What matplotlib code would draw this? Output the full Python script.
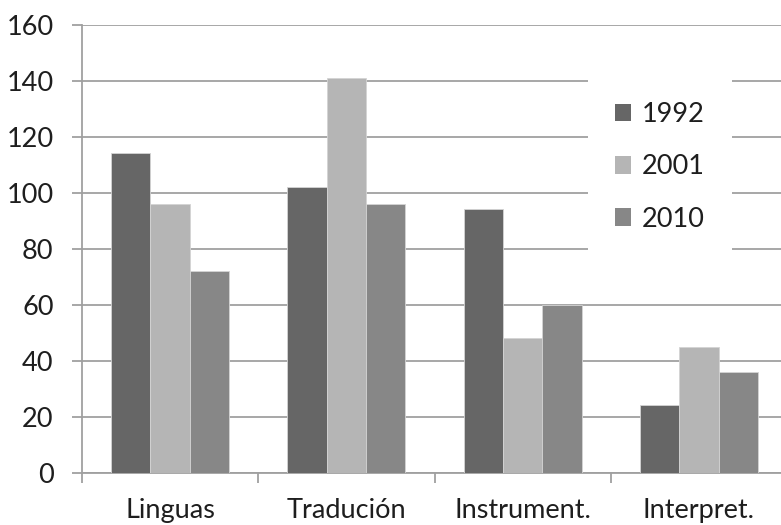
import numpy as np
import matplotlib
matplotlib.use("Agg")
import matplotlib.pyplot as plt

plt.rcParams['font.family'] = ['Lato', 'DejaVu Sans']

# dados
categorias = ["Linguas", "Tradución", "Instrument.", "Interpret."]
anos = ["1992", "2001", "2010"]
v1992 = [114, 102, 94, 24]
v2001 = [96, 141, 48, 45]
v2010 = [72, 96, 60, 36]
series = [v1992, v2001, v2010]
cores = ["#666666", "#b5b5b5", "#878787"]

fig = plt.figure(figsize=(7.81, 5.25), dpi=100)
# o eixo passa um pouco da borda direita da figura
ax = fig.add_axes([82 / 781, 52.3 / 525, 705 / 781, 448.2 / 525])

x = np.arange(len(categorias))
w = 0.223
for i, (vals, ano, cor) in enumerate(zip(series, anos, cores)):
    ax.bar(x + (i - 1) * w, vals, w, color=cor, label=ano,
           edgecolor="#d4d4d4", linewidth=0.6, zorder=3)

ax.set_ylim(0, 160)
ax.set_xlim(-0.5, len(categorias) - 0.5)
ax.set_yticks(np.arange(0, 161, 20))
ax.yaxis.grid(True, color="#a0a0a0", linewidth=1.3, zorder=0)
ax.set_axisbelow(True)

for s in ["top", "right"]:
    ax.spines[s].set_visible(False)
for s in ["left", "bottom"]:
    ax.spines[s].set_color("#a0a0a0")
    ax.spines[s].set_linewidth(1.3)

fs = 19.5
ax.set_xticks(x)
ax.set_xticklabels(categorias)
ax.set_xticks(np.arange(-0.5, len(categorias), 1.0), minor=True)
ax.tick_params(axis="x", which="major", length=0, pad=18, labelsize=fs,
               labelcolor="#1e1e1e")
ax.tick_params(axis="x", which="minor", length=7.5, width=1.3, color="#a0a0a0")
ax.tick_params(axis="y", length=7.5, width=1.3, color="#a0a0a0", pad=13,
               labelsize=fs, labelcolor="#1e1e1e")

leg = ax.legend(loc="center", bbox_to_anchor=(660 / 781, 1 - 167 / 525),
                bbox_transform=fig.transFigure, frameon=True, fontsize=fs,
                handlelength=0.6, handleheight=0.6, handletextpad=0.4,
                labelspacing=1.0, borderpad=1.0)
leg.get_frame().set_facecolor("white")
leg.get_frame().set_edgecolor("none")
leg.get_frame().set_alpha(1)
leg.get_frame().set_boxstyle("square", pad=0)
for t in leg.get_texts():
    t.set_color("#1e1e1e")
for h in leg.legend_handles:
    h.set_edgecolor("none")

fig.savefig("out.png", dpi=100)
